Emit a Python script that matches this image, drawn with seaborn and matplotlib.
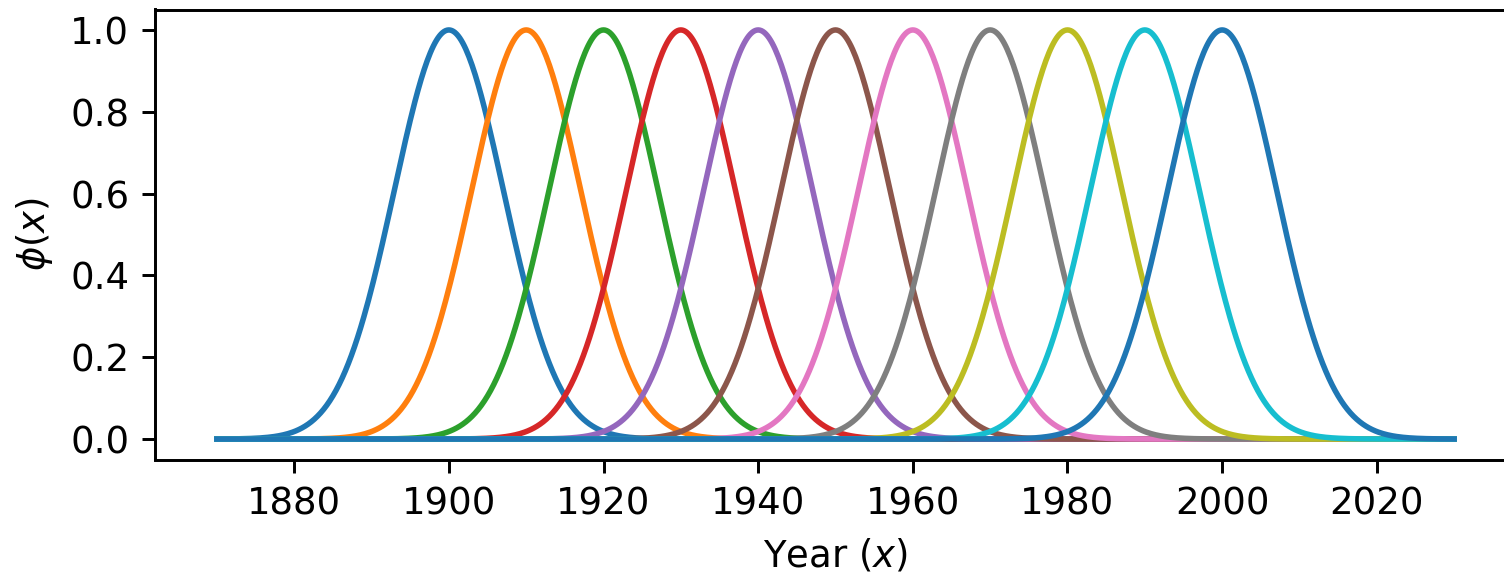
import numpy as np
import pandas as pd
import matplotlib
matplotlib.use("Agg")
import matplotlib.pyplot as plt
import seaborn as sns

# Basis-function centres (years) and width
centers = [1900, 1910, 1920, 1930, 1940, 1950, 1960, 1970, 1980, 1990, 2000]
width = 10.0
x_start, x_end = 1870, 2030
x_ticks = [1880, 1900, 1920, 1940, 1960, 1980, 2000, 2020]
y_ticks = [0.0, 0.2, 0.4, 0.6, 0.8, 1.0]

xs = np.linspace(x_start, x_end, 801)
frames = []
for c in centers:
    frames.append(pd.DataFrame({"x": xs, "phi": np.exp(-((xs - c) / width) ** 2), "center": str(c)}))
df = pd.concat(frames, ignore_index=True)

tab10 = sns.color_palette("tab10", 10)
palette = [tab10[i % 10] for i in range(len(centers))]

plt.rcdefaults()
plt.rcParams["font.family"] = ["DejaVu Sans"]
dpi = 266
fig = plt.figure(figsize=(1504 / dpi, 572 / dpi), dpi=dpi)
ax = fig.add_axes([155 / 1504, 1 - 459.5 / 572, (1516 - 155) / 1504, (459.5 - 9.5) / 572])

sns.lineplot(data=df, x="x", y="phi", hue="center", hue_order=[str(c) for c in centers],
             palette=palette, linewidth=1.5, legend=False, ax=ax)

ax.set_xlim(1862, 2038)
ax.set_ylim(-0.05, 1.05)
ax.set_xticks(x_ticks)
ax.set_yticks(y_ticks)
ax.set_xlabel(r"Year ($x$)")
ax.set_ylabel(r"$\phi(x)$")

fig.savefig("out.png", dpi=dpi)
